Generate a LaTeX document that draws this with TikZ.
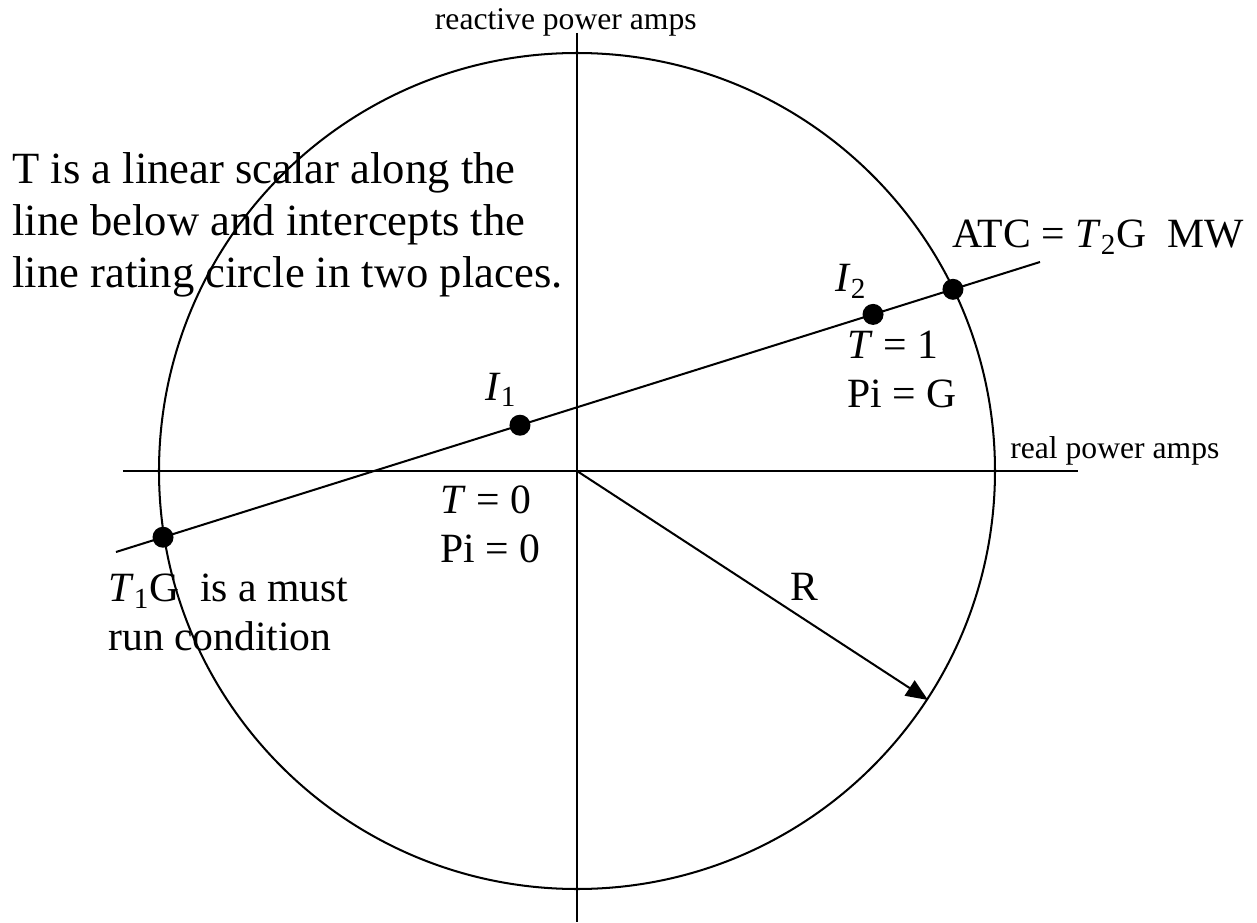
\documentclass[tikz,border=0pt]{standalone}
\usepackage{fontspec}
\setmainfont{Liberation Serif}
\usetikzlibrary{arrows.meta,calc}
\tikzset{
  axisline/.style={line width=1.15pt},
  ptdot/.style={circle,fill=black,inner sep=0pt,minimum size=.42cm},
  note/.style={font=\fontsize{23.7}{29.5}\selectfont,inner sep=0pt,anchor=base west,align=left},
  bignote/.style={font=\fontsize{25.4}{29.5}\selectfont,inner sep=0pt,anchor=base west,align=left},
  pairnote/.style={font=\fontsize{23.7}{27.6}\selectfont,inner sep=0pt,anchor=base west,align=left},
  axislabel/.style={font=\fontsize{18}{22}\selectfont,inner sep=0pt},
  radiusarrow/.style={-{Triangle[length=.44cm,width=.36cm]},line width=1.15pt}
}

\begin{document}
\begin{tikzpicture}[x=1cm,y=1cm]
  \useasboundingbox (-11.54,9.42) rectangle (13.60,-9.02);
  \coordinate (origin) at (0,0);
  \draw[axisline] (origin) circle[radius=8.36];
  \coordinate (realL) at (-9.08,0);
  \coordinate (realR) at (10.02,0);
  \coordinate (reacT) at (0,8.76);
  \coordinate (reacB) at (0,-9.02);
  \draw[axisline] (realL) -- (realR);
  \draw[axisline] (reacT) -- (reacB);
  \node[axislabel,anchor=base east] (reacLbl) at (2.40,8.82) {reactive power amps};
  \node[axislabel,anchor=base west] (realLbl) at (8.66,0.26) {real power amps};

  \coordinate (loadA) at (-9.22,-1.62);
  \coordinate (loadB) at (9.26,4.18);
  \draw[axisline] (loadA) -- (loadB);
  \coordinate (rimR) at (7.02,-4.58);
  \draw[radiusarrow] (origin) -- (rimR);

  \node[ptdot] (mustRun) at ($(loadA)!.0509!(loadB)$) {};
  \node[ptdot] (curI1) at ($(loadA)!.4372!(loadB)$) {};
  \node[ptdot] (curI2) at ($(loadA)!.8193!(loadB)$) {};
  \node[ptdot] (atcPt) at ($(loadA)!.9058!(loadB)$) {};

  \node[bignote] (scalarTxt) at (-11.30,3.68)
       {T is a linear scalar along the\\line below and intercepts the\\line rating circle in two places.};
  \node[note] (atcTxt) at (7.50,4.46) {ATC = \textit{T}\textsubscript{2}G\ \ MW};
  \node[note] (i2Txt) at (5.16,3.58) {\textit{I}\textsubscript{2}};
  \node[pairnote] (t1Txt) at (5.40,1.28) {\textit{T} = 1\\Pi = G};
  \node[note] (i1Txt) at (-1.84,1.42) {\textit{I}\textsubscript{1}};
  \node[pairnote] (t0Txt) at (-2.74,-1.82) {\textit{T} = 0\\Pi = 0};
  \node[note] (rTxt) at (4.26,-2.58) {R};
  \node[pairnote] (mustTxt) at (-9.38,-3.58) {\textit{T}\textsubscript{1}G\ \ is a must\\run condition};
\end{tikzpicture}
\end{document}
